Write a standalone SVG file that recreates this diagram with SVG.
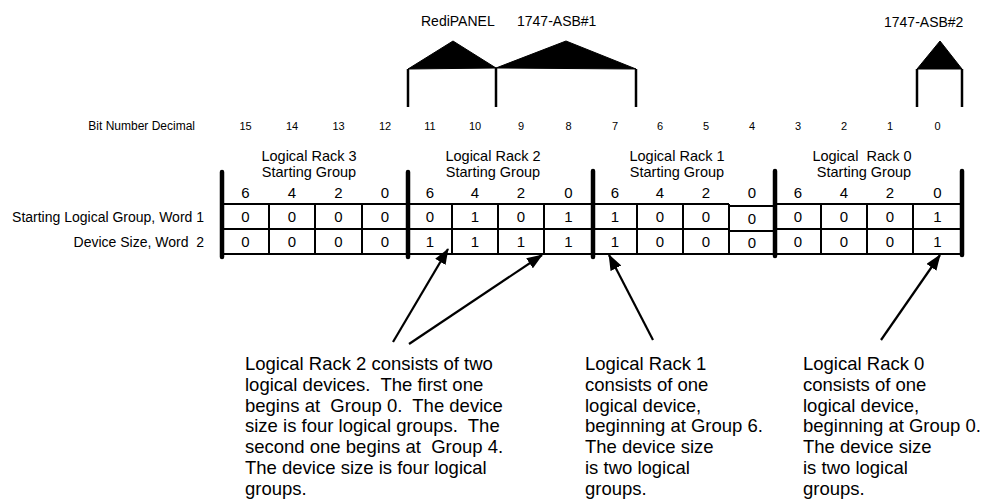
<svg xmlns="http://www.w3.org/2000/svg" width="985" height="500" viewBox="0 0 985 500">
<defs>
<style>
text{font-family:"Liberation Sans",Arial,sans-serif;fill:#000;white-space:pre}
.top{font-size:14px}
.bit{font-size:11px;text-anchor:middle}
.hdr{font-size:14.5px;text-anchor:middle}
.dig{font-size:15px;text-anchor:middle}
.row{font-size:14px;text-anchor:end}
.note{font-size:18.5px}
.thin{stroke:#000;stroke-width:2;fill:none}
.thick{stroke:#000;stroke-width:4.5;stroke-linecap:round;fill:none}
.brk{stroke:#000;stroke-width:2.5;fill:none}
.tri{fill:#000;stroke:#000;stroke-width:1;stroke-linejoin:round}
.arr{stroke:#000;stroke-width:2.2;fill:none}
</style>
<marker id="ah" markerUnits="userSpaceOnUse" markerWidth="16" markerHeight="12" refX="15" refY="6" orient="auto">
<path d="M0,0 L16,6 L0,12 Z" fill="#000"/>
</marker>
</defs>
<rect width="985" height="500" fill="#fff"/>

<g id="redipanel">
<text class="top" x="421" y="26">RediPANEL</text>
<polygon class="tri" points="408,69 453,41 496,68"/>
<line class="brk" x1="408" y1="69" x2="408" y2="107"/>
<line class="brk" x1="496" y1="68" x2="496" y2="107"/>
</g>
<g id="asb1">
<text class="top" x="517" y="26">1747-ASB#1</text>
<polygon class="tri" points="496,68 566,41 636,69"/>
<line class="brk" x1="636" y1="69" x2="636" y2="107"/>
</g>
<g id="asb2">
<text class="top" x="884" y="27">1747-ASB#2</text>
<polygon class="tri" points="917,69 940,41 962,69"/>
<line class="brk" x1="917" y1="69" x2="917" y2="107"/>
<line class="brk" x1="962" y1="69" x2="962" y2="107"/>
</g>

<g id="bit-numbers">
<text x="195" y="130" style="font-size:12px;text-anchor:end">Bit Number Decimal</text>
<text class="bit" x="245.5" y="130">15</text>
<text class="bit" x="292" y="130">14</text>
<text class="bit" x="338.5" y="130">13</text>
<text class="bit" x="385" y="130">12</text>
<text class="bit" x="430" y="130">11</text>
<text class="bit" x="475" y="130">10</text>
<text class="bit" x="521" y="130">9</text>
<text class="bit" x="568.5" y="130">8</text>
<text class="bit" x="615" y="130">7</text>
<text class="bit" x="660" y="130">6</text>
<text class="bit" x="706" y="130">5</text>
<text class="bit" x="752" y="130">4</text>
<text class="bit" x="798" y="130">3</text>
<text class="bit" x="844" y="130">2</text>
<text class="bit" x="890" y="130">1</text>
<text class="bit" x="937.5" y="130">0</text>
</g>

<g id="rack-headers">
<text class="hdr" x="309" y="161">Logical Rack 3</text>
<text class="hdr" x="309" y="177">Starting Group</text>
<text class="hdr" x="493" y="161">Logical Rack 2</text>
<text class="hdr" x="493" y="177">Starting Group</text>
<text class="hdr" x="677" y="161">Logical Rack 1</text>
<text class="hdr" x="677" y="177">Starting Group</text>
<text class="hdr" x="862" y="161">Logical  Rack 0</text>
<text class="hdr" x="864" y="177">Starting Group</text>
</g>

<g id="row-labels">
<text class="row" x="204" y="222">Starting Logical Group, Word 1</text>
<text class="row" x="204" y="247">Device Size, Word  2</text>
</g>

<g id="table">
<line class="thin" x1="222" y1="204" x2="729" y2="204"/>
<line class="thin" x1="775" y1="204" x2="962" y2="204"/>
<line class="thin" x1="222" y1="229" x2="729" y2="229"/>
<line class="thin" x1="775" y1="229" x2="962" y2="229"/>
<line class="thin" x1="729" y1="206" x2="775" y2="206"/>
<line class="thin" x1="729" y1="231" x2="775" y2="231"/>
<line class="thin" x1="222" y1="254" x2="962" y2="254"/>
<g>
<line class="thin" x1="269" y1="204" x2="269" y2="254"/>
<line class="thin" x1="315" y1="204" x2="315" y2="254"/>
<line class="thin" x1="362" y1="204" x2="362" y2="254"/>
<line class="thin" x1="452" y1="204" x2="452" y2="254"/>
<line class="thin" x1="498" y1="204" x2="498" y2="254"/>
<line class="thin" x1="544" y1="204" x2="544" y2="254"/>
<line class="thin" x1="637" y1="204" x2="637" y2="254"/>
<line class="thin" x1="683" y1="204" x2="683" y2="254"/>
<line class="thin" x1="729" y1="204" x2="729" y2="254"/>
<line class="thin" x1="821" y1="204" x2="821" y2="254"/>
<line class="thin" x1="867" y1="204" x2="867" y2="254"/>
<line class="thin" x1="913" y1="204" x2="913" y2="254"/>
</g>
<line class="thick" x1="222" y1="172" x2="222" y2="257"/>
<line class="thick" x1="408" y1="172" x2="408" y2="257"/>
<line class="thick" x1="593" y1="171" x2="593" y2="257"/>
<line class="thick" x1="775" y1="171" x2="775" y2="256"/>
<line class="thick" x1="962" y1="171" x2="962" y2="255"/>

<g id="group-digits">
<text class="dig" x="245.5" y="198">6</text><text class="dig" x="292" y="198">4</text><text class="dig" x="338.5" y="198">2</text><text class="dig" x="385" y="198">0</text>
<text class="dig" x="430" y="198">6</text><text class="dig" x="475" y="198">4</text><text class="dig" x="521" y="198">2</text><text class="dig" x="568.5" y="198">0</text>
<text class="dig" x="615" y="198">6</text><text class="dig" x="660" y="198">4</text><text class="dig" x="706" y="198">2</text><text class="dig" x="752" y="198">0</text>
<text class="dig" x="798" y="198">6</text><text class="dig" x="844" y="198">4</text><text class="dig" x="890" y="198">2</text><text class="dig" x="937.5" y="198">0</text>
</g>
<g id="word1">
<text class="dig" x="245.5" y="222">0</text><text class="dig" x="292" y="222">0</text><text class="dig" x="338.5" y="222">0</text><text class="dig" x="385" y="222">0</text>
<text class="dig" x="430" y="222">0</text><text class="dig" x="475" y="222">1</text><text class="dig" x="521" y="222">0</text><text class="dig" x="568.5" y="222">1</text>
<text class="dig" x="615" y="222">1</text><text class="dig" x="660" y="222">0</text><text class="dig" x="706" y="222">0</text><text class="dig" x="752" y="224">0</text>
<text class="dig" x="798" y="222">0</text><text class="dig" x="844" y="222">0</text><text class="dig" x="890" y="222">0</text><text class="dig" x="937.5" y="222">1</text>
</g>
<g id="word2">
<text class="dig" x="245.5" y="247">0</text><text class="dig" x="292" y="247">0</text><text class="dig" x="338.5" y="247">0</text><text class="dig" x="385" y="247">0</text>
<text class="dig" x="430" y="247">1</text><text class="dig" x="475" y="247">1</text><text class="dig" x="521" y="247">1</text><text class="dig" x="568.5" y="247">1</text>
<text class="dig" x="615" y="247">1</text><text class="dig" x="660" y="247">0</text><text class="dig" x="706" y="247">0</text><text class="dig" x="752" y="248">0</text>
<text class="dig" x="798" y="247">0</text><text class="dig" x="844" y="247">0</text><text class="dig" x="890" y="247">0</text><text class="dig" x="937.5" y="247">1</text>
</g>
</g>

<g id="connectors">
<line class="arr" x1="393" y1="342" x2="448" y2="249" marker-end="url(#ah)"/>
<line class="arr" x1="409" y1="344" x2="542" y2="255" marker-end="url(#ah)"/>
<line class="arr" x1="653" y1="340" x2="609" y2="255" marker-end="url(#ah)"/>
<line class="arr" x1="881" y1="340" x2="940" y2="255" marker-end="url(#ah)"/>
</g>

<g id="note-rack2">
<text class="note" x="245" y="370">Logical Rack 2 consists of two</text>
<text class="note" x="245" y="390.8">logical devices.  The first one</text>
<text class="note" x="245" y="411.6">begins at  Group 0.  The device</text>
<text class="note" x="245" y="432.4">size is four logical groups.  The</text>
<text class="note" x="245" y="453.2">second one begins at  Group 4.</text>
<text class="note" x="245" y="474">The device size is four logical</text>
<text class="note" x="245" y="494.8">groups.</text>
</g>
<g id="note-rack1">
<text class="note" x="585" y="370">Logical Rack 1</text>
<text class="note" x="585" y="390.8">consists of one</text>
<text class="note" x="585" y="411.6">logical device,</text>
<text class="note" x="585" y="432.4">beginning at Group 6.</text>
<text class="note" x="585" y="453.2">The device size</text>
<text class="note" x="585" y="474">is two logical</text>
<text class="note" x="585" y="494.8">groups.</text>
</g>
<g id="note-rack0">
<text class="note" x="803" y="370">Logical Rack 0</text>
<text class="note" x="803" y="390.8">consists of one</text>
<text class="note" x="803" y="411.6">logical device,</text>
<text class="note" x="803" y="432.4">beginning at Group 0.</text>
<text class="note" x="803" y="453.2">The device size</text>
<text class="note" x="803" y="474">is two logical</text>
<text class="note" x="803" y="494.8">groups.</text>
</g>
</svg>
